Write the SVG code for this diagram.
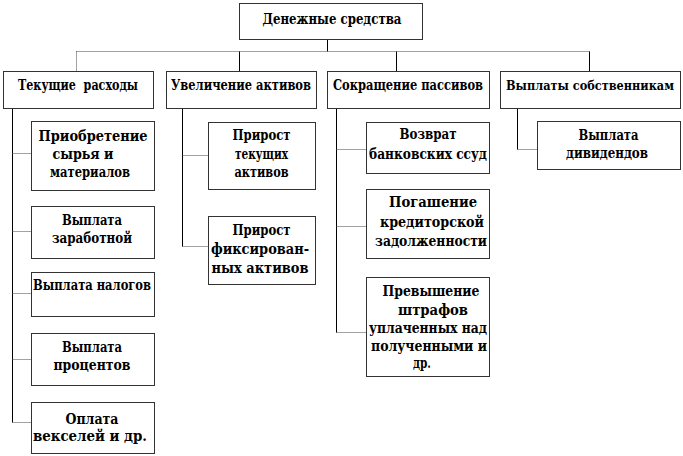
<svg xmlns="http://www.w3.org/2000/svg" width="683" height="456" viewBox="0 0 683 456">
<style>
.box{fill:#fff;stroke:#333;stroke-width:1}
.t{font-family:'DejaVu Serif','Liberation Serif',serif;font-weight:bold;font-size:14px;text-anchor:middle;fill:#000}
.v{stroke:#000;stroke-width:1;fill:none}
.h{stroke:#444;stroke-width:1;stroke-dasharray:1 1;fill:none}
</style>
<rect width="683" height="456" fill="#fff"/>
<g id="connectors">
<path class="v" d="M327.5 39.5V51.5"/>
<path class="h" d="M76.5 51.5H589.5"/>
<path class="h" d="M76.5 51.5V71.5"/>
<path class="v" d="M239.5 51.5V71.5M396.5 51.5V71.5M589.5 51.5V71.5"/>
<path class="v" d="M12.5 108.5V422.5"/>
<path class="h" d="M12.5 153.5H31M12.5 231.5H31M12.5 293.5H31M12.5 359.5H31M12.5 422.5H31"/>
<path class="v" d="M182.5 108.5V246.5"/>
<path class="h" d="M182.5 155.5H208M182.5 246.5H208"/>
<path class="v" d="M336.5 108.5V332.5"/>
<path class="h" d="M336.5 149.5H366M336.5 226.5H366M336.5 332.5H366"/>
<path class="v" d="M517.5 108.5V149.5"/>
<path class="h" d="M517.5 149.5H537"/>
</g>
<g id="n-root"><rect class="box" x="239.5" y="3.5" width="183" height="36"/>
<text class="t" x="332" y="24" textLength="139" lengthAdjust="spacingAndGlyphs">Денежные средства</text></g>
<g id="n-tek"><rect class="box" x="3.5" y="71.5" width="150" height="37"/>
<text class="t" x="78" y="90" textLength="120" lengthAdjust="spacingAndGlyphs" xml:space="preserve">Текущие  расходы</text></g>
<g id="n-uvel"><rect class="box" x="166.5" y="71.5" width="150" height="37"/>
<text class="t" x="241" y="90" textLength="140" lengthAdjust="spacingAndGlyphs">Увеличение активов</text></g>
<g id="n-sokr"><rect class="box" x="327.5" y="71.5" width="162" height="37"/>
<text class="t" x="408" y="90" textLength="150" lengthAdjust="spacingAndGlyphs">Сокращение пассивов</text></g>
<g id="n-vypl"><rect class="box" x="500.5" y="71.5" width="180" height="37"/>
<text class="t" x="590" y="90" style="font-size:12px" textLength="168" lengthAdjust="spacingAndGlyphs">Выплаты собственникам</text></g>

<g id="n-c1a"><rect class="box" x="31.5" y="121.5" width="123" height="69"/>
<text class="t" x="93" y="141" textLength="109" lengthAdjust="spacingAndGlyphs">Приобретение</text>
<text class="t" x="83" y="159" textLength="61" lengthAdjust="spacingAndGlyphs">сырья и</text>
<text class="t" x="90" y="177" textLength="80" lengthAdjust="spacingAndGlyphs">материалов</text></g>
<g id="n-c1b"><rect class="box" x="31.5" y="206.5" width="123" height="52"/>
<text class="t" x="92" y="225" textLength="60" lengthAdjust="spacingAndGlyphs">Выплата</text>
<text class="t" x="92" y="243" textLength="80" lengthAdjust="spacingAndGlyphs">заработной</text></g>
<g id="n-c1c"><rect class="box" x="31.5" y="272.5" width="123" height="44"/>
<text class="t" x="92" y="290" textLength="118" lengthAdjust="spacingAndGlyphs">Выплата налогов</text></g>
<g id="n-c1d"><rect class="box" x="31.5" y="333.5" width="123" height="52"/>
<text class="t" x="92" y="352" textLength="60" lengthAdjust="spacingAndGlyphs">Выплата</text>
<text class="t" x="92" y="370" textLength="77" lengthAdjust="spacingAndGlyphs">процентов</text></g>
<g id="n-c1e"><rect class="box" x="31.5" y="402.5" width="123" height="51"/>
<text class="t" x="92" y="424" textLength="53" lengthAdjust="spacingAndGlyphs">Оплата</text>
<text class="t" x="90" y="441" textLength="114" lengthAdjust="spacingAndGlyphs">векселей и др.</text></g>

<g id="n-c2a"><rect class="box" x="208.5" y="122.5" width="107" height="67"/>
<text class="t" x="261.5" y="140" textLength="58" lengthAdjust="spacingAndGlyphs">Прирост</text>
<text class="t" x="261.5" y="159" textLength="53" lengthAdjust="spacingAndGlyphs">текущих</text>
<text class="t" x="261.5" y="177" textLength="54" lengthAdjust="spacingAndGlyphs">активов</text></g>
<g id="n-c2b"><rect class="box" x="208.5" y="216.5" width="107" height="68"/>
<text class="t" x="261.5" y="235" textLength="58" lengthAdjust="spacingAndGlyphs">Прирост</text>
<text class="t" x="260" y="254" textLength="98" lengthAdjust="spacingAndGlyphs">фиксирован-</text>
<text class="t" x="260" y="273" textLength="97" lengthAdjust="spacingAndGlyphs">ных активов</text></g>

<g id="n-c3a"><rect class="box" x="366.5" y="122.5" width="123" height="51"/>
<text class="t" x="428" y="139" textLength="57" lengthAdjust="spacingAndGlyphs">Возврат</text>
<text class="t" x="428" y="159" textLength="118" lengthAdjust="spacingAndGlyphs">банковских ссуд</text></g>
<g id="n-c3b"><rect class="box" x="366.5" y="189.5" width="123" height="69"/>
<text class="t" x="433" y="207" textLength="88" lengthAdjust="spacingAndGlyphs">Погашение</text>
<text class="t" x="432" y="227" textLength="104" lengthAdjust="spacingAndGlyphs">кредиторской</text>
<text class="t" x="431" y="246" textLength="112" lengthAdjust="spacingAndGlyphs">задолженности</text></g>
<g id="n-c3c"><rect class="box" x="366.5" y="277.5" width="123" height="99"/>
<text class="t" x="431" y="296" textLength="97" lengthAdjust="spacingAndGlyphs">Превышение</text>
<text class="t" x="433" y="315" textLength="70" lengthAdjust="spacingAndGlyphs">штрафов</text>
<text class="t" x="428" y="333" textLength="118" lengthAdjust="spacingAndGlyphs">уплаченных над</text>
<text class="t" x="429" y="351" textLength="116" lengthAdjust="spacingAndGlyphs">полученными и</text>
<text class="t" x="422" y="368" textLength="18" lengthAdjust="spacingAndGlyphs">др.</text></g>

<g id="n-c4a"><rect class="box" x="537.5" y="121.5" width="143" height="48"/>
<text class="t" x="608.5" y="140" textLength="60" lengthAdjust="spacingAndGlyphs">Выплата</text>
<text class="t" x="607" y="158" textLength="82" lengthAdjust="spacingAndGlyphs">дивидендов</text></g>
</svg>
